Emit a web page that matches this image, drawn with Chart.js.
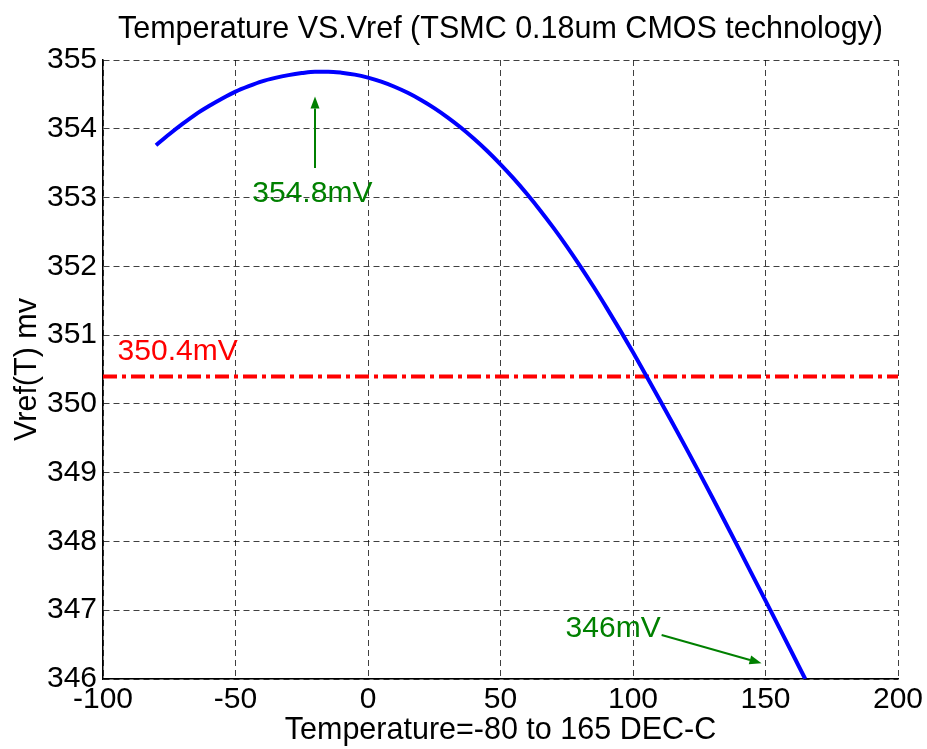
<!DOCTYPE html>
<html>
<head>
<meta charset="utf-8">
<script src="https://cdn.jsdelivr.net/npm/chart.js@4/dist/chart.umd.min.js"></script>
<style>
  body { margin: 0; background: #fff; }
  #wrap { width: 927px; height: 749px; }
</style>
</head>
<body>
<div id="wrap"><canvas id="vrefChart" width="927" height="749"></canvas></div>
<script>
// temperature (DEC-C) and Vref (mV)
const temps = [-80, -75, -70, -65, -60, -55, -50, -45, -40, -35, -30, -25, -20, -15, -10, -5,
  0, 5, 10, 15, 20, 25, 30, 35, 40, 45, 50, 55, 60, 65, 70, 75, 80, 85, 90, 95,
  100, 105, 110, 115, 120, 125, 130, 135, 140, 145, 150, 155, 160, 165];
const vref = [353.76, 353.92, 354.07, 354.21, 354.33, 354.44, 354.54, 354.62, 354.69, 354.74,
  354.78, 354.81, 354.83, 354.83, 354.815, 354.787, 354.743, 354.685, 354.611, 354.523,
  354.419, 354.301, 354.167, 354.019, 353.855, 353.677, 353.483, 353.275, 353.051, 352.813,
  352.559, 352.291, 352.007, 351.71, 351.40, 351.08, 350.75, 350.41, 350.065, 349.715,
  349.36, 349.0, 348.635, 348.265, 347.891, 347.514, 347.14, 346.762, 346.382, 346.0];

// reference level
const refLevel = 350.4;
const refSpan = [-100, 200];

// annotations: text + arrows in data coordinates
const notes = [
  { text: '354.8mV', x: -21, y: 353.05, color: '#008000', align: 'center' },
  { text: '346mV', x: 92.5, y: 346.73, color: '#008000', align: 'center' },
  { text: '350.4mV', x: -94.5, y: 350.76, color: '#ff0000', align: 'left' }
];
const arrows = [
  { from: [-20, 353.43], to: [-20, 354.47] },
  { from: [110.8, 346.64], to: [148.5, 346.23] }
];

const FONT = "'Liberation Sans', Arial, Helvetica, sans-serif";

const notePlugin = {
  id: 'notes',
  afterDatasetsDraw(chart) {
    const { ctx, scales: { x, y } } = chart;
    ctx.save();
    ctx.font = '30px ' + FONT;
    ctx.textBaseline = 'middle';
    notes.forEach(n => {
      ctx.fillStyle = n.color;
      ctx.textAlign = n.align;
      ctx.fillText(n.text, x.getPixelForValue(n.x), y.getPixelForValue(n.y));
    });
    ctx.strokeStyle = '#008000';
    ctx.fillStyle = '#008000';
    ctx.lineWidth = 2;
    arrows.forEach(a => {
      const x1 = x.getPixelForValue(a.from[0]), y1 = y.getPixelForValue(a.from[1]);
      const x2 = x.getPixelForValue(a.to[0]), y2 = y.getPixelForValue(a.to[1]);
      const ang = Math.atan2(y2 - y1, x2 - x1);
      const hl = 12, hw = 4.5;
      const bx = x2 - hl * Math.cos(ang), by = y2 - hl * Math.sin(ang);
      ctx.beginPath();
      ctx.moveTo(x1, y1);
      ctx.lineTo(bx, by);
      ctx.stroke();
      ctx.beginPath();
      ctx.moveTo(x2, y2);
      ctx.lineTo(bx + hw * Math.sin(ang), by - hw * Math.cos(ang));
      ctx.lineTo(bx - hw * Math.sin(ang), by + hw * Math.cos(ang));
      ctx.closePath();
      ctx.fill();
    });
    ctx.restore();
  }
};

Chart.defaults.font.family = FONT;
Chart.defaults.color = '#000';

new Chart(document.getElementById('vrefChart'), {
  type: 'line',
  data: {
    datasets: [
      {
        label: 'Vref',
        data: temps.map((t, i) => ({ x: t, y: vref[i] })),
        borderColor: '#0000ff',
        borderWidth: 4,
        pointRadius: 0,
        cubicInterpolationMode: 'monotone',
        fill: false
      },
      {
        label: 'ref',
        data: refSpan.map(t => ({ x: t, y: refLevel })),
        borderColor: '#ff0000',
        borderWidth: 4,
        borderDash: [14, 5, 4, 5],
        pointRadius: 0,
        fill: false
      }
    ]
  },
  options: {
    responsive: false,
    animation: false,
    layout: { padding: { top: 0, right: 29, bottom: 0, left: 0 } },
    plugins: {
      legend: { display: false },
      tooltip: { enabled: false },
      title: {
        display: true,
        fullSize: false,
        text: 'Temperature VS.Vref (TSMC 0.18um CMOS technology)',
        color: '#000',
        font: { size: 30.5, weight: 'normal' },
        padding: { top: 11, bottom: 12.4 }
      }
    },
    scales: {
      x: {
        type: 'linear',
        min: -100,
        max: 200,
        ticks: { stepSize: 50, font: { size: 30 }, padding: 3, color: '#000', maxRotation: 0 },
        grid: { color: 'rgba(0,0,0,0.75)', lineWidth: 1, drawTicks: false },
        border: { display: true, color: '#000', width: 1.5, dash: [6, 4] },
        title: { display: true, text: 'Temperature=-80 to 165 DEC-C', font: { size: 30.5 }, color: '#000', padding: { top: 0, bottom: 0 } },
        afterFit(scale) { scale.height = 70; }
      },
      y: {
        min: 346,
        max: 355,
        ticks: { stepSize: 1, font: { size: 30 }, padding: 6, color: '#000' },
        grid: { color: 'rgba(0,0,0,0.75)', lineWidth: 1, drawTicks: false },
        border: { display: true, color: '#000', width: 1.5, dash: [6, 4] },
        title: { display: true, text: 'Vref(T) mv', font: { size: 30.5 }, color: '#000', padding: { top: 9, bottom: 0 } },
        afterFit(scale) { scale.width = 103; }
      }
    }
  },
  plugins: [notePlugin]
});
</script>
</body>
</html>
